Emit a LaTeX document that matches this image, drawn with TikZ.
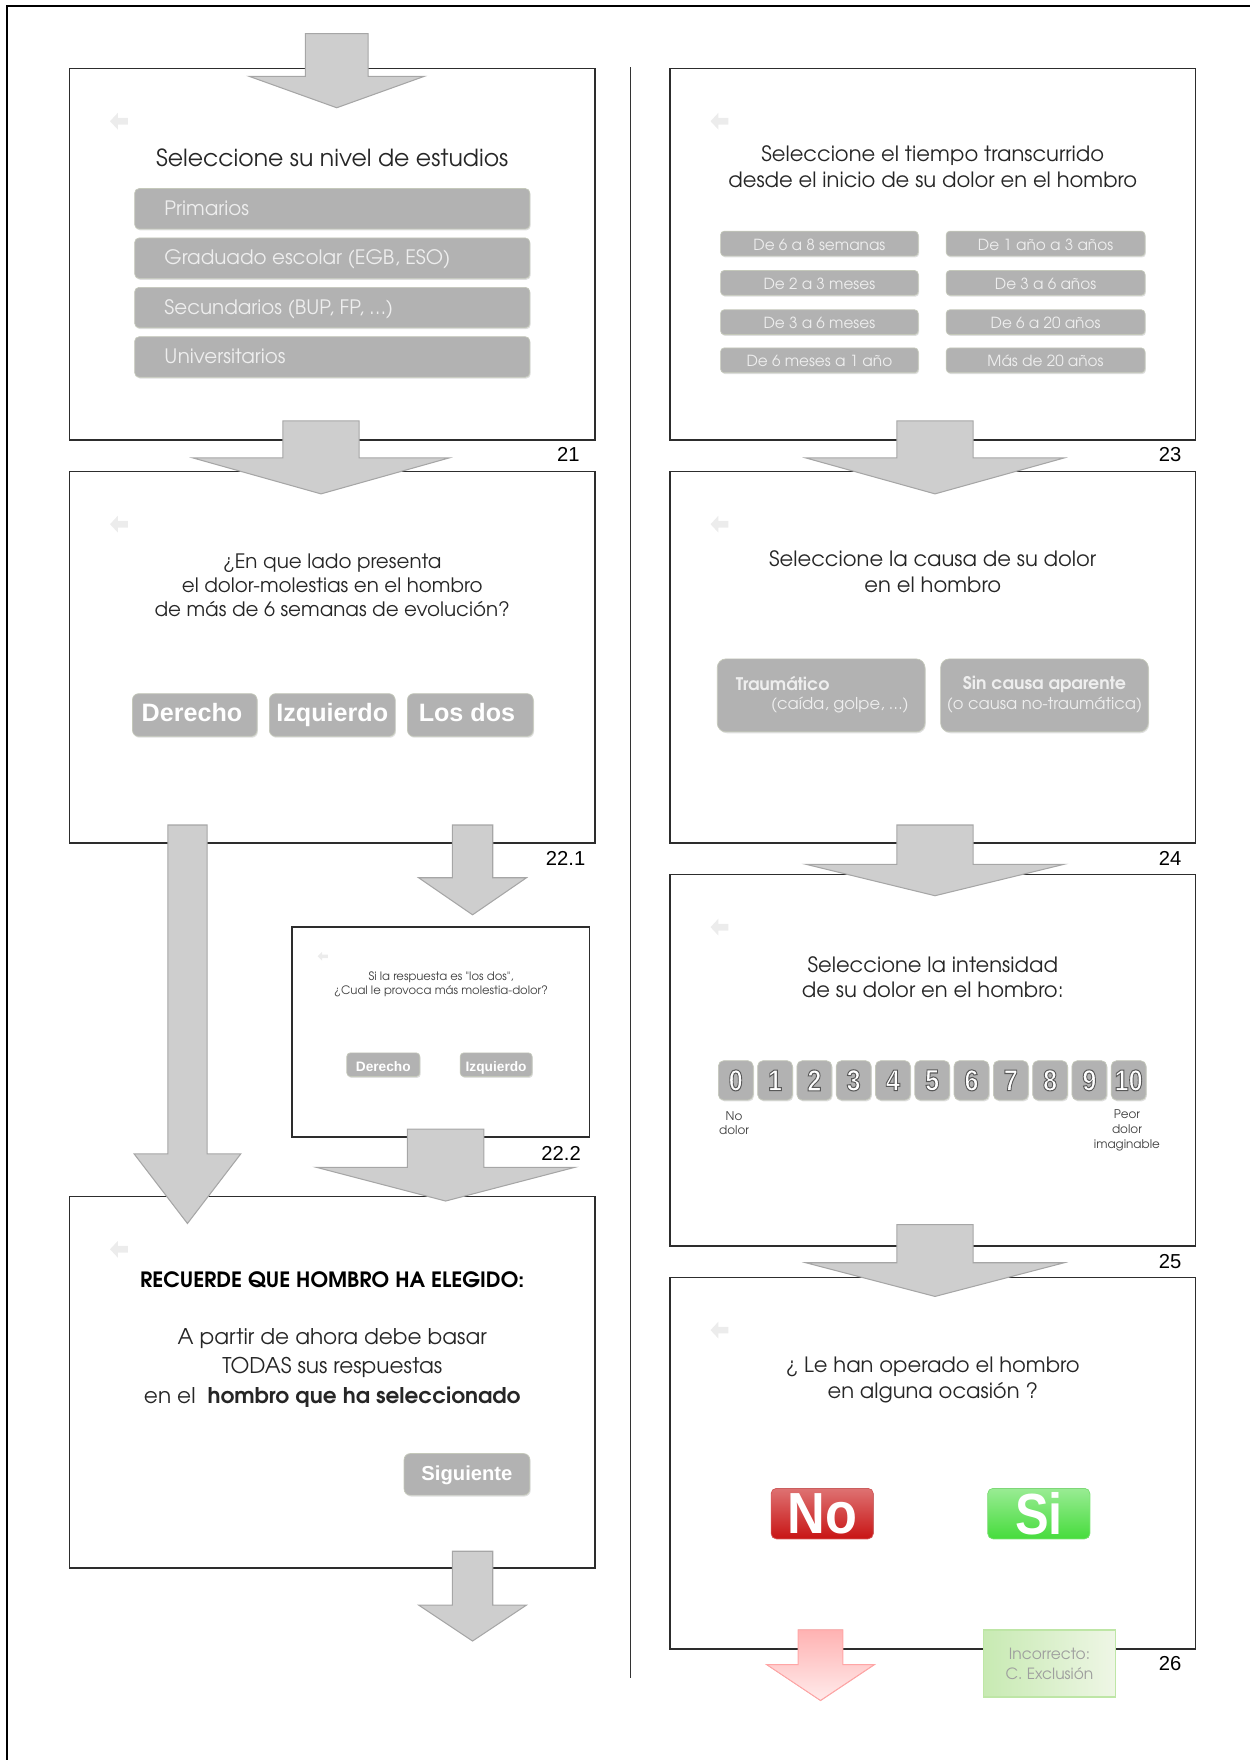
\documentclass[tikz,border=0pt]{standalone}
\usepackage{fontspec}
\usepackage{graphicx}
\setmainfont{Liberation Sans}
\newfontfamily\gothic[Extension=.otf, UprightFont=*-regular, BoldFont=*-bold]{texgyreadventor}
\usetikzlibrary{shadows,positioning}

\definecolor{framedge}{RGB}{45,45,45}
\definecolor{btngray}{RGB}{178,178,178}
\definecolor{btnedge}{RGB}{196,200,186}
\definecolor{btntext}{RGB}{238,238,238}
\definecolor{arrowfill}{RGB}{206,206,206}
\definecolor{arrowedge}{RGB}{166,166,166}
\definecolor{backgray}{RGB}{236,236,236}
\definecolor{nored}{RGB}{200,20,20}
\definecolor{sigreen}{RGB}{70,220,60}

% block arrow: [style]{x}{shaft half width}{top}{head base}{head half width}{tip}
\newcommand{\blockarrow}[7][flowarrow]{%
  \filldraw[#1] (#2-#3,#4) -- (#2+#3,#4) -- (#2+#3,#5) -- (#2+#6,#5)
    -- (#2,#7) -- (#2-#6,#5) -- (#2-#3,#5) -- cycle;}

% faint back button in the corner of each slide
\newcommand{\backicon}[2]{%
  \fill[backgray] (#1,#2) -- ++(7,-7.5) -- ++(0,4.5) -- ++(9,0) -- ++(0,6)
    -- ++(-9,0) -- ++(0,4.5) -- cycle;}

% white digits with a dark rim (fill + stroke text)
\newcommand{\rimmed}[1]{%
  \special{pdf:literal direct 2 Tr 0.6 w 0.35 G}#1\special{pdf:literal direct 0 Tr}}

\begin{document}
\begin{tikzpicture}[x=0.0224417cm, y=-0.0224417cm,
    slide/.style={draw=framedge, line width=0.9pt},
    flowarrow/.style={fill=arrowfill, draw=arrowedge, line width=0.6pt},
    title/.style={font=\gothic\fontsize{12}{14.6}\selectfont, text=black!85, align=center},
    bar/.style={fill=btngray, draw=btnedge, line width=0.4pt, rounded corners=2.5pt,
      drop shadow={shadow xshift=0.5pt, shadow yshift=-0.8pt, opacity=0.25}},
    even/.style={text height=0.74em, text depth=0em},
    bartext/.style={even, font=\gothic\fontsize{11.3}{13}\selectfont, text=btntext},
    smalltext/.style={even, font=\gothic\fontsize{8.7}{9}\selectfont, text=btntext},
    pick/.style={bar, rounded corners=3.5pt},
    picktext/.style={even, font=\bfseries\fontsize{14.3}{16}\selectfont, text=white},
    causetext/.style={font=\gothic\fontsize{9.3}{11.4}\selectfont, text=btntext, align=center},
    tiny/.style={font=\gothic\fontsize{6.6}{7.6}\selectfont, text=black!75, align=center},
    painlabel/.style={font=\gothic\fontsize{6.8}{8.3}\selectfont, text=black!75, align=center},
    num/.style={font=\fontsize{11.5}{12}\selectfont, anchor=east}
  ]
  \useasboundingbox (0,0) rectangle (1114,1568);
  % page edges and column divider
  \draw[line width=1.1pt] (6,1568) -- (6,5.5) -- (1114,5.5);
  \draw[line width=0.6pt, black!80] (562,60) -- (562,1495);

  % slides, left column
  \draw[slide] (62,61) rectangle (530,392);
  \draw[slide] (62,420) rectangle (530,751);
  \draw[slide] (260,826) rectangle (525,1013);
  \draw[slide] (62,1066) rectangle (530,1397);
  % slides, right column
  \draw[slide] (597,61) rectangle (1065,392);
  \draw[slide] (597,420) rectangle (1065,751);
  \draw[slide] (597,779) rectangle (1065,1110);
  \draw[slide] (597,1138) rectangle (1065,1469);

  \node[num] (n21) at (522,405) {21};
  \node[num] (n221) at (527,765) {22.1};
  \node[num] (n222) at (523,1028) {22.2};
  \node[num] (n23) at (1058,405) {23};
  \node[num] (n24) at (1058,765) {24};
  \node[num] (n25) at (1058,1124) {25};
  \node[num] (n26) at (1058,1482) {26};

  \backicon{98}{108} \backicon{633}{108}
  \backicon{98}{467} \backicon{633}{467}
  \backicon{633}{826} \backicon{98}{1113}
  \backicon{633}{1185}
  \fill[backgray] (283,852) -- ++(4,-4) -- ++(0,2.5) -- ++(5,0) -- ++(0,3)
    -- ++(-5,0) -- ++(0,2.5) -- cycle;

  % 21: nivel de estudios
  \node[title, font=\gothic\fontsize{13.4}{15}\selectfont] (q21) at (296,141) {Seleccione su nivel de estudios};
  \foreach \y/\txt in {168/Primarios, 212/{Graduado escolar (EGB, ESO)},
      256/{Secundarios (BUP, FP, \dots)}, 300/Universitarios} {
    \filldraw[bar] (120,\y) rectangle (472,\y+36);
    \node[bartext, anchor=west] at (141,\y+18) {\txt};
  }

  % 23: tiempo transcurrido
  \node[title] (q23) at (831,148.5) {Seleccione el tiempo transcurrido\\desde el inicio de su dolor en el hombro};
  \foreach \y/\lt/\rt in {206/{De 6 a 8 semanas}/{De 1 año a 3 años},
      241/{De 2 a 3 meses}/{De 3 a 6 años},
      276/{De 3 a 6 meses}/{De 6 a 20 años},
      310/{De 6 meses a 1 año}/{Más de 20 años}} {
    \filldraw[bar, rounded corners=2pt] (642,\y) rectangle (818,\y+22);
    \filldraw[bar, rounded corners=2pt] (843,\y) rectangle (1020,\y+22);
    \node[smalltext] at (730,\y+11) {\lt};
    \node[smalltext] at (931.5,\y+11) {\rt};
  }

  % 22.1: lado del dolor
  \node[title, font=\gothic\fontsize{11.3}{13.7}\selectfont] (q221) at (296,521.5)
    {¿En que lado presenta\\el dolor-molestias en el hombro\\de más de 6 semanas de evolución?};
  \filldraw[pick] (118,618) rectangle (229,656);
  \filldraw[pick] (240,618) rectangle (352,656);
  \filldraw[pick] (363,618) rectangle (475,656);
  \node[picktext] (der) at (171,637) {Derecho};
  \node[picktext] (izq) at (296,637) {Izquierdo};
  \node[picktext] (dos) at (416,637) {Los dos};

  % 24: causa del dolor
  \node[title] (q24) at (831,509.5) {Seleccione la causa de su dolor\\en el hombro};
  \filldraw[pick, rounded corners=5pt] (639,587) rectangle (824,652);
  \filldraw[pick, rounded corners=5pt] (838,587) rectangle (1023,652);
  \node[causetext, anchor=west, font=\gothic\bfseries\fontsize{9.9}{11}\selectfont] (trau) at (650,609) {Traumático};
  \node[causetext, anchor=east] (trau2) at (815,628) {(caída, golpe, \dots)};
  \node[causetext] (sinc) at (930.5,619) {{\fontsize{9.9}{11.4}\selectfont\bfseries Sin causa aparente}\\(o causa no-traumática)};

  % 22.2: los dos
  \node[tiny] (q222) at (393,877) {Si la respuesta es "los dos",\\¿Cual le provoca más molestia-dolor?};
  \filldraw[pick, rounded corners=2pt] (309,938) rectangle (374,959);
  \filldraw[pick, rounded corners=2pt] (410,938) rectangle (474,959);
  \node[picktext, font=\bfseries\fontsize{7.8}{9}\selectfont] (der2) at (341.5,948.5) {Derecho};
  \node[picktext, font=\bfseries\fontsize{7.8}{9}\selectfont] (izq2) at (442,948.5) {Izquierdo};

  % 25: intensidad
  \node[title] (q25) at (831,870.5) {Seleccione la intensidad\\de su dolor en el hombro:};
  \foreach \n in {0,...,10} {
    \pgfmathsetmacro{\bx}{640+35*\n}
    \filldraw[pick, rounded corners=3pt] (\bx,945) rectangle (\bx+31,980);
    \node[font=\bfseries\fontsize{17}{17}\selectfont, text=white] (k\n) at (\bx+15.5,962.5)
      {\scalebox{0.85}[1]{\rimmed{\n}}};
  }
  \node[painlabel] (nodolor) at (654,1000.5) {No\\dolor};
  \node[painlabel] (peor) at (1004,1007) {Peor\\dolor\\imaginable};

  % 22.3: recordatorio
  \node[font=\gothic\bfseries\fontsize{12}{13}\selectfont] (rec) at (296,1140) {RECUERDE QUE HOMBRO HA ELEGIDO:};
  \node[title, font=\gothic\fontsize{12.3}{16.8}\selectfont] (basar) at (296,1218.5)
    {A partir de ahora debe basar\\TODAS sus respuestas\\en el \ \textbf{hombro que ha seleccionado}};
  \filldraw[pick] (360,1295) rectangle (472,1332);
  \node[picktext, font=\bfseries\fontsize{11.5}{13}\selectfont] (sig) at (416,1313.5) {Siguiente};

  % 26: operado
  \node[title] (q26) at (831,1229.5) {¿ Le han operado el hombro\\en alguna ocasión ?};
  \filldraw[rounded corners=3pt, top color=nored!60!white, bottom color=nored, draw=nored!70!white, line width=0.4pt]
    (687,1326) rectangle (778,1371);
  \filldraw[rounded corners=3pt, top color=sigreen!55!white, bottom color=sigreen, draw=sigreen!70!white, line width=0.4pt]
    (880,1326) rectangle (971,1371);
  \node[font=\bfseries\fontsize{33}{33}\selectfont, text=white] (no) at (733,1349) {\scalebox{0.9}[1]{No}};
  \node[font=\bfseries\fontsize{33}{33}\selectfont, text=white] (si) at (925.5,1349) {\scalebox{0.87}[1]{Si}};

  % arrows between slides
  \blockarrow{300}{28}{30}{68}{78}{96}
  \blockarrow{286}{34}{375}{408}{114}{440}
  \blockarrow{167}{17.5}{735}{1028}{47.5}{1090}
  \blockarrow{421}{18}{735}{782}{48}{815}
  \blockarrow{397}{34}{1006}{1040}{115}{1070}
  \blockarrow{421}{18}{1382}{1430}{48}{1462}
  \blockarrow{833}{34}{375}{408}{115}{440}
  \blockarrow{833}{34}{735}{770}{115}{798}
  \blockarrow{833}{34}{1091}{1125}{115}{1155}
  \blockarrow[top color=red!30!white, bottom color=red!8!white, draw=red!35!white, line width=0.6pt]{731}{20}{1452}{1483}{48}{1515}

  % exclusion note
  \filldraw[left color=green!45!olive!30!white, right color=green!30!olive!10!white, draw=green!45!olive!35!white, line width=0.8pt]
    (876,1452) rectangle (994,1512);
  \node[font=\gothic\fontsize{8.8}{11.5}\selectfont, text=black!38, align=center] (excl) at (935,1482) {Incorrecto:\\C. Exclusión};
\end{tikzpicture}
\end{document}
